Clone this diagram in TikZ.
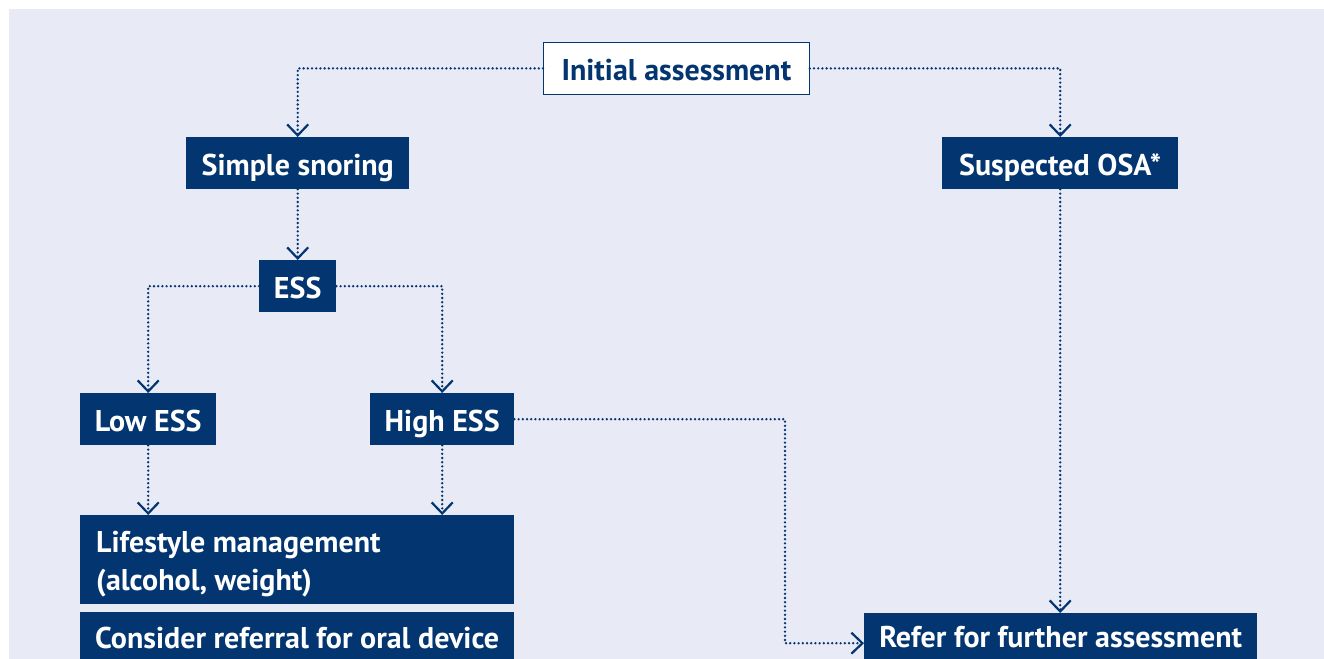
\documentclass[tikz,border=0pt]{standalone}
\usepackage{fontspec}
\newfontfamily\lblfont{PT Sans}
\usetikzlibrary{arrows.meta}
\definecolor{bgc}{RGB}{232,234,246}
\definecolor{navy}{RGB}{3,53,113}
\tikzset{
  lbl/.style={font=\lblfont\bfseries\fontsize{30}{38}\selectfont},
  box/.style={lbl, fill=navy, text=white, inner xsep=8pt, inner ysep=0pt,
    minimum height=52pt, text height=24pt, text depth=0pt, anchor=north west},
  wbox/.style={box, fill=white, text=navy, draw=navy, line width=0.8pt},
  conn/.style={draw=navy, line width=2.6pt, dash pattern=on 0pt off 4.2pt, line cap=round,
    -{Straight Barb[length=11pt,width=21pt,line width=2.2pt]}},
}
\begin{document}
\begin{tikzpicture}[x=1pt,y=-1pt]
\useasboundingbox (0,0) rectangle (1324,658);
\clip (0,0) rectangle (1324,658);
\fill[bgc] (9,9) rectangle (1330,670);
% nodes
\node[wbox, minimum width=266pt] (init) at (543,42) {Initial assessment};
\node[box, minimum width=223pt] (simple) at (186,137) {Simple snoring};
\node[box, minimum width=236pt] (osa) at (942,137) {Suspected OSA*};
\node[box, minimum width=77pt] (ess) at (259,260) {ESS};
\node[box, minimum width=136pt] (low) at (80,393) {Low ESS};
\node[box, minimum width=144pt] (high) at (370,393) {High ESS};
\node[box, minimum width=434pt, minimum height=89pt] (life) at (80,515) {};
\node[lbl, text=white, anchor=base west, inner sep=0pt] (lifea) at (96,552) {Lifestyle management};
\node[lbl, text=white, anchor=base west, inner sep=0pt] (lifeb) at (96,590) {(alcohol, weight)};
\node[box, minimum width=434pt, minimum height=64pt, text depth=16pt] (cons) at (80,612) {Consider referral for oral device};
\node[box, minimum width=393pt, minimum height=60pt, text depth=16pt] (refer) at (864,613) {Refer for further assessment};
\coordinate (bend) at (785,419);
% connectors
\draw[conn] (init.west) -| (simple.north);
\draw[conn] (init.east) -| (osa.north);
\draw[conn] (simple.south) -- (ess.north);
\draw[conn] (ess.west) -| (low.north);
\draw[conn] (ess.east) -| (high.north);
\draw[conn] (low.south) -- (low.south |- life.north);
\draw[conn] (high.south) -- (high.south |- life.north);
\draw[conn] (high.east) -- (high.east -| bend) -- (bend |- refer.west) -- (refer.west);
\draw[conn] (osa.south) -- (osa.south |- refer.north);
\end{tikzpicture}
\end{document}
